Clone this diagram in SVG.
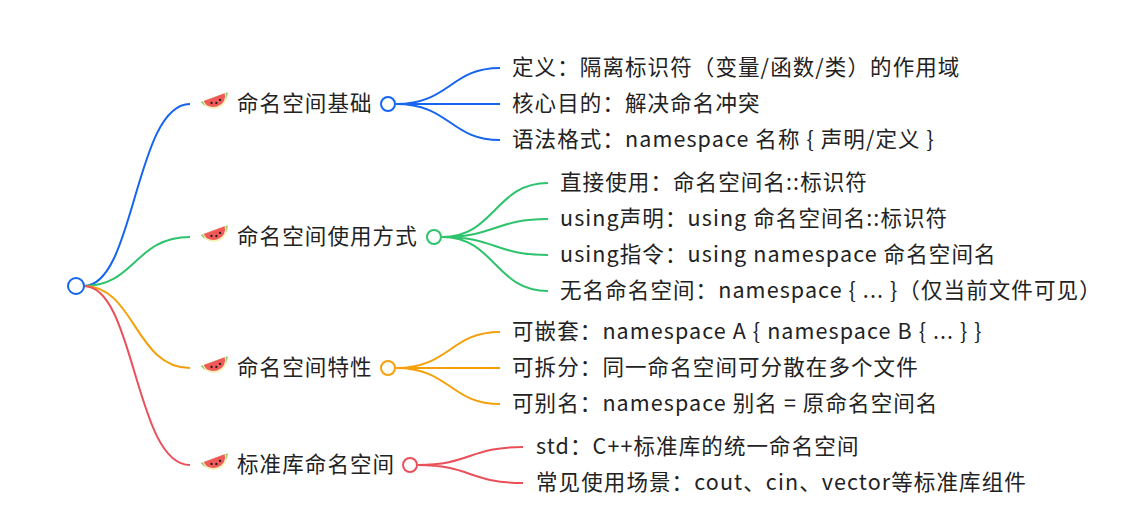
<svg xmlns="http://www.w3.org/2000/svg" width="1144" height="524" viewBox="0 0 1144 524">
<defs>
<style>
text{font-family:"Noto Sans CJK SC","Noto Sans",sans-serif;font-size:21.5px;letter-spacing:1.1px;fill:#222}
.c{fill:none;stroke-width:2}
.b{stroke:#1565f0}.g{stroke:#2ec36c}.o{stroke:#f5a00a}.r{stroke:#e9505a}
.n{fill:#fff;stroke-width:2}
</style>
<g id="melon">
<g transform="rotate(-20) scale(1.3)">
<path d="M-11,-4 A11.5,11.5 0 0 0 11,-4 Z" fill="#8bc34a"/>
<path d="M-9.5,-4 A9.5,9 0 0 0 9.5,-4 Z" fill="#f4f0b8"/>
<path d="M-8.5,-4 A8.5,7.5 0 0 0 8.5,-4 Z" fill="#f25a5a"/>
<g fill="#222"><circle cx="-3.5" cy="-0.5" r="0.9"/><circle cx="0" cy="0.8" r="0.9"/><circle cx="3.5" cy="-0.5" r="0.9"/></g>
</g>
</g>
</defs>
<rect width="1144" height="524" fill="#fff"/>
<g id="connectors">
<path class="c b" d="M84,286 C135,286 135,104 190,104"/>
<path class="c g" d="M84,286 C135,286 135,237 190,237"/>
<path class="c o" d="M84,286 C135,286 135,368 190,368"/>
<path class="c r" d="M84,286 C135,286 135,465 190,465"/>
<path class="c b" d="M396,104 C450,104 450,68 500,68 M396,104 H500 M396,104 C450,104 450,140 500,140"/>
<path class="c g" d="M442,237 C495,237 495,183 548,183 M442,237 C495,237 495,219 548,219 M442,237 C495,237 495,255 548,255 M442,237 C495,237 495,291 548,291"/>
<path class="c o" d="M396,368 C450,368 450,332 500,332 M396,368 H500 M396,368 C450,368 450,404 500,404"/>
<path class="c r" d="M418,465 C470,465 470,447 523,447 M418,465 C470,465 470,483 523,483"/>
</g>
<g id="root"><circle class="n b" cx="76" cy="286" r="8"/></g>
<g id="n1"><use href="#melon" x="216" y="102"/><text x="237" y="111">命名空间基础</text><circle class="n b" cx="388" cy="104" r="7"/></g>
<g id="n2"><use href="#melon" x="216" y="235"/><text x="237" y="244">命名空间使用方式</text><circle class="n g" cx="434" cy="237" r="7"/></g>
<g id="n3"><use href="#melon" x="216" y="366"/><text x="237" y="375">命名空间特性</text><circle class="n o" cx="388" cy="368" r="7"/></g>
<g id="n4"><use href="#melon" x="216" y="463"/><text x="237" y="472">标准库命名空间</text><circle class="n r" cx="410" cy="465" r="7"/></g>
<g id="l11"><text x="512" y="75">定义：隔离标识符（变量/函数/类）的作用域</text></g>
<g id="l12"><text x="512" y="111">核心目的：解决命名冲突</text></g>
<g id="l13"><text x="512" y="147">语法格式：namespace 名称 { 声明/定义 }</text></g>
<g id="l21"><text x="560" y="190">直接使用：命名空间名::标识符</text></g>
<g id="l22"><text x="560" y="226">using声明：using 命名空间名::标识符</text></g>
<g id="l23"><text x="560" y="262">using指令：using namespace 命名空间名</text></g>
<g id="l24"><text x="560" y="298">无名命名空间：namespace { ... }（仅当前文件可见）</text></g>
<g id="l31"><text x="512" y="339">可嵌套：namespace A { namespace B { ... } }</text></g>
<g id="l32"><text x="512" y="375">可拆分：同一命名空间可分散在多个文件</text></g>
<g id="l33"><text x="512" y="411">可别名：namespace 别名 = 原命名空间名</text></g>
<g id="l41"><text x="536" y="454">std：C++标准库的统一命名空间</text></g>
<g id="l42"><text x="536" y="490">常见使用场景：cout、cin、vector等标准库组件</text></g>
</svg>
